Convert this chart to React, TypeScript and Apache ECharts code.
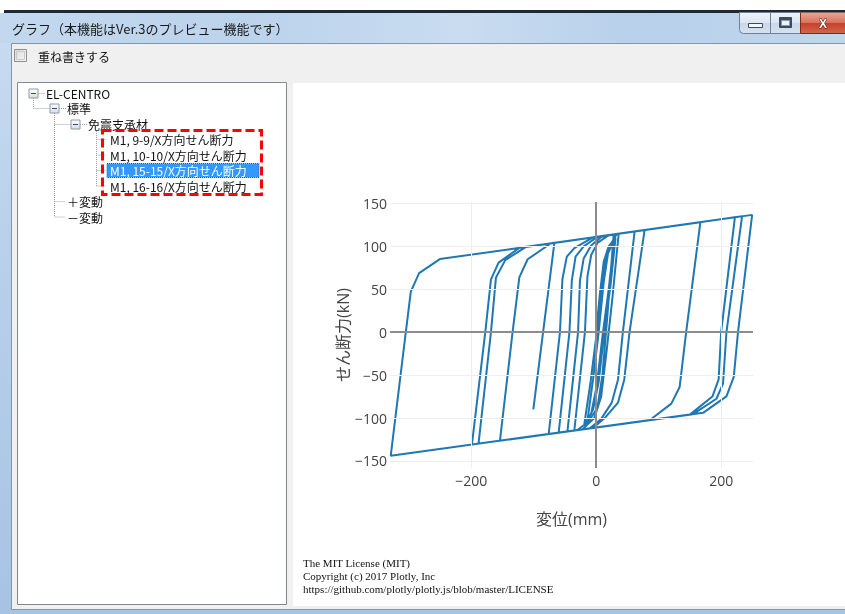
import React, { useEffect, useRef } from 'react';
import * as echarts from 'echarts';

// hysteresis loop: displacement (mm) vs shear force (kN), in time order
const displacement = [
  0, 6, 12, 20, 31, 23, 13, 4, -5, -14, -5, 4, 12, 19, 29, 20, 10, 1, -8, -19,
  -9, 1, 10, 18, 33, 166.8, 144, 133.6, 120.3, 85.5, -198.9, -177.5, -168.4, -156.2, -123,
  61.5, 42.7, 35, 25, 8, -10, -188.3, -168.4, -160.4, -145.5, -112.3, 249.6, 227, 220.2, 208.5,
  171, -328.8, -304.7, -296.7, -283.4, -250.2, 77.5, 53.4, 45, 35, 15, -5, -76, -58, -54,
  -47, -35, -5, 233.5, 208.5, 203, 192.5, 155, -46, -29, -26, -20, -8, 10, 222,
  200, 196, 186, 150, -35, -18, -14, -8, 2, 20, 36, 26, 17, 8, -3,
  -22, -60, -42.8, -39, -33, -20, 0, 28, 18, 10, 2, -12, -30, -154, -133.8,
  -123, -109.7, -72.2, -66.9, -100.6,
];
const shear = [
  0, 45, 82, 100, 110, 55, 0, -58, -90, -103, -55, 0, 58, 92, 108, 50, -5, -62, -95, -107,
  -58, 0, 62, 96, 114.4, 128.2, 0, -63.8, -83.2, -102.5, -130.9, 0, 61.5, 81, 98.3,
  117.3, 0, -55, -82, -101, -112, -129.8, 0, 63.8, 84, 99.4, 136.7, 0, -52, -74.7,
  -93.9, -143.9, 0, 47.3, 68.8, 85.2, 119, 0, -55, -82, -99, -111.5, -118.6, 0, 62,
  88, 98, 110.5, 135, 0, -60, -77.5, -95.5, -115.6, 0, 60, 86, 101, 112, 133.9,
  0, -55, -75, -96, -114.5, 0, 65, 90, 104, 113, 114.7, 40, -20, -75, -100,
  -113.2, -117, 0, 60, 88, 100, 110, 113.9, 20, -50, -88, -104, -114, -126.4, 0,
  63.8, 85, 103.6, 104.1, -90,
];

const xTickValues = [-200, 0, 200];
const yTickValues = [-150, -100, -50, 0, 50, 100, 150];
const xRange = [-330, 251];
const yRange = [-158.2, 151.7];

const windowTitle = 'グラフ（本機能はVer.3のプレビュー機能です）';
const checkboxLabel = '重ね書きする';
const treeRoot = 'EL-CENTRO';
const treeLevel1 = '標準';
const treeLevel2 = '免震支承材';
const treeItems = [
  'M1, 9-9/X方向せん断力',
  'M1, 10-10/X方向せん断力',
  'M1, 15-15/X方向せん断力',
  'M1, 16-16/X方向せん断力',
];
const selectedItem = 2;
const treeSiblings = ['＋変動', '－変動'];
const licenseLines = [
  'The MIT License (MIT)',
  'Copyright (c) 2017 Plotly, Inc',
  'https://github.com/plotly/plotly.js/blob/master/LICENSE',
];
const xTitle = '変位(mm)';
const yTitle = 'せん断力(kN)';

const UI_FONT = '"Noto Sans CJK JP", "Noto Sans", sans-serif';
const PLOT_FONT = '"Open Sans", "Noto Sans CJK JP", sans-serif';

const fmt = (v: number) => (v < 0 ? '\u2212' + Math.abs(v) : String(v));

function txt(text: string, x: number, y: number, size: number, fill = '#111', align = 'left', family = UI_FONT, extra: any = {}) {
  return {
    type: 'text',
    x,
    y,
    silent: true,
    style: {
      text,
      fill,
      font: `${size}px ${family}`,
      textAlign: align,
      align,
      textVerticalAlign: 'middle',
      verticalAlign: 'middle',
      ...extra,
    },
  };
}

function dotted(x1: number, y1: number, x2: number, y2: number) {
  return {
    type: 'line',
    silent: true,
    shape: { x1, y1, x2, y2 },
    style: { stroke: '#a0a0a0', lineWidth: 1, lineDash: [1, 1] },
  };
}

function expandBox(cx: number, cy: number) {
  return [
    {
      type: 'rect',
      silent: true,
      shape: { x: cx - 4.5, y: cy - 4.5, width: 9, height: 9 },
      style: {
        fill: { type: 'linear', x: 0, y: 0, x2: 0, y2: 1, colorStops: [{ offset: 0, color: '#ffffff' }, { offset: 1, color: '#dcdcdc' }] },
        stroke: '#8f9aa8',
        lineWidth: 1,
      },
    },
    {
      type: 'line',
      silent: true,
      shape: { x1: cx - 2.5, y1: cy, x2: cx + 2.5, y2: cy },
      style: { stroke: '#2c4a80', lineWidth: 1 },
    },
  ];
}

function buildGraphics() {
  const g: any[] = [];
  // outside / top
  g.push({ type: 'rect', silent: true, shape: { x: 0, y: 0, width: 845, height: 614 }, style: { fill: '#ffffff' } });
  g.push({ type: 'rect', silent: true, shape: { x: 4, y: 10, width: 841, height: 3 }, style: { fill: '#1e2936' } });
  // window frame
  g.push({
    type: 'rect', silent: true, shape: { x: 0, y: 13, width: 845, height: 601 },
    style: { fill: { type: 'linear', x: 0, y: 0, x2: 0, y2: 1, colorStops: [{ offset: 0, color: '#c8dcf1' }, { offset: 0.4, color: '#b9d0ea' }, { offset: 1, color: '#a7c3e4' }] } },
  });
  // title bar
  g.push({
    type: 'rect', silent: true, shape: { x: 0, y: 13, width: 845, height: 30 },
    style: { fill: { type: 'linear', x: 0, y: 0, x2: 1, y2: 0, colorStops: [{ offset: 0, color: '#c3d8ee' }, { offset: 0.3, color: '#bcd3ec' }, { offset: 0.55, color: '#c9dcf0' }, { offset: 0.75, color: '#b8d0ea' }, { offset: 1, color: '#c0d6ed' }] } },
  });
  g.push(txt(windowTitle, 12, 28, 13, '#1a1a1a'));
  // client area (runs off the right edge of the picture)
  g.push({ type: 'rect', silent: true, shape: { x: 12, y: 43, width: 833, height: 567 }, style: { fill: '#f0f0f0' } });
  g.push({ type: 'line', silent: true, shape: { x1: 11.5, y1: 43.5, x2: 845, y2: 43.5 }, style: { stroke: '#8596ab', lineWidth: 1 } });
  g.push({ type: 'line', silent: true, shape: { x1: 11.5, y1: 43.5, x2: 11.5, y2: 609.5 }, style: { stroke: '#8596ab', lineWidth: 1 } });
  g.push({ type: 'line', silent: true, shape: { x1: 11.5, y1: 609.5, x2: 845, y2: 609.5 }, style: { stroke: '#8596ab', lineWidth: 1 } });
  // checkbox
  g.push({
    type: 'rect', silent: true, shape: { x: 14.5, y: 49.5, width: 12, height: 12 },
    style: { fill: { type: 'linear', x: 0, y: 0, x2: 1, y2: 1, colorStops: [{ offset: 0, color: '#d8d8d8' }, { offset: 1, color: '#fafafa' }] }, stroke: '#8e8f8f', lineWidth: 1 },
  });
  g.push({ type: 'rect', silent: true, shape: { x: 16.5, y: 51.5, width: 8, height: 8 }, style: { fill: 'none', stroke: '#c8c8c8', lineWidth: 1 } });
  g.push(txt(checkboxLabel, 38, 56, 12, '#111'));
  // tree view box
  g.push({ type: 'rect', silent: true, shape: { x: 17.5, y: 82.5, width: 269, height: 522 }, style: { fill: '#ffffff', stroke: '#828790', lineWidth: 1 } });
  // plot panel
  g.push({ type: 'rect', silent: true, shape: { x: 293, y: 83, width: 552, height: 523 }, style: { fill: '#ffffff' } });

  // tree connectors
  const itemY = [139.5, 155, 170.5, 186];
  g.push(dotted(38.5, 93.5, 45, 93.5));
  g.push(dotted(33.5, 98, 33.5, 108.5));
  g.push(dotted(33.5, 108.5, 50, 108.5));
  g.push(dotted(54.5, 113, 54.5, 217));
  g.push(dotted(59, 108.5, 66, 108.5));
  g.push(dotted(54.5, 124.5, 71, 124.5));
  g.push(dotted(80, 124.5, 87, 124.5));
  g.push(dotted(54.5, 201.5, 65, 201.5));
  g.push(dotted(54.5, 217, 65, 217));
  g.push(dotted(96.5, 131, 96.5, 186));
  itemY.forEach((y) => g.push(dotted(96.5, y, 106, y)));
  g.push(...expandBox(33.5, 93.5));
  g.push(...expandBox(54.5, 108.5));
  g.push(...expandBox(75.5, 124.5));
  g.push(txt(treeRoot, 46, 93, 12, '#111'));
  g.push(txt(treeLevel1, 67, 108.5, 12, '#111'));
  g.push(txt(treeLevel2, 88, 124, 12, '#111'));
  // selection highlight
  g.push({ type: 'rect', silent: true, shape: { x: 107, y: 163.5, width: 152, height: 14 }, style: { fill: '#3399ff', stroke: '#1a5fb4', lineWidth: 1, lineDash: [1, 1] } });
  treeItems.forEach((t, i) => g.push(txt(t, 110, itemY[i], 12, i === selectedItem ? '#ffffff' : '#111')));
  g.push(txt(treeSiblings[0], 67, 201.5, 12, '#111'));
  g.push(txt(treeSiblings[1], 67, 217, 12, '#111'));
  // red dashed highlight box
  g.push({ type: 'rect', silent: true, shape: { x: 102.5, y: 130.5, width: 159, height: 64 }, style: { fill: 'none', stroke: '#ff0000', lineWidth: 3, lineDash: [9, 4] } });

  // title buttons
  const btnFill = { type: 'linear', x: 0, y: 0, x2: 0, y2: 1, colorStops: [{ offset: 0, color: '#eef3f9' }, { offset: 0.5, color: '#dbe5f1' }, { offset: 0.51, color: '#c9d7e8' }, { offset: 1, color: '#d6e2ef' }] };
  g.push({ type: 'rect', silent: true, shape: { x: 739.5, y: 12.5, width: 31, height: 21, r: [0, 0, 0, 4] }, style: { fill: btnFill, stroke: '#6f8196', lineWidth: 1 } });
  g.push({ type: 'rect', silent: true, shape: { x: 770.5, y: 12.5, width: 30, height: 21 }, style: { fill: btnFill, stroke: '#6f8196', lineWidth: 1 } });
  g.push({ type: 'rect', silent: true, shape: { x: 748.5, y: 23.5, width: 14, height: 4 }, style: { fill: '#f4f7fb', stroke: '#3d4b5e', lineWidth: 1 } });
  g.push({ type: 'rect', silent: true, shape: { x: 779.5, y: 17.5, width: 12, height: 10 }, style: { fill: '#3d4b5e', stroke: '#3d4b5e', lineWidth: 1 } });
  g.push({ type: 'rect', silent: true, shape: { x: 781.5, y: 20.5, width: 8, height: 5 }, style: { fill: '#eef3f9', stroke: '#8a9bb0', lineWidth: 1 } });
  g.push({
    type: 'rect', silent: true, shape: { x: 800.5, y: 12.5, width: 44.5, height: 21 },
    style: { fill: { type: 'linear', x: 0, y: 0, x2: 0, y2: 1, colorStops: [{ offset: 0, color: '#e9a795' }, { offset: 0.5, color: '#d8705a' }, { offset: 0.51, color: '#c7402a' }, { offset: 1, color: '#d2674d' }] } },
  });
  g.push({ type: 'line', silent: true, shape: { x1: 800.5, y1: 12.5, x2: 800.5, y2: 33.5 }, style: { stroke: '#7a2a1e', lineWidth: 1 } });
  g.push({ type: 'line', silent: true, shape: { x1: 800.5, y1: 33.5, x2: 845, y2: 33.5 }, style: { stroke: '#7a2a1e', lineWidth: 1 } });
  g.push(txt('X', 823, 23.5, 15, '#ffffff', 'center', '"Liberation Sans", Arial, sans-serif', { fontWeight: 'bold', font: 'bold 15px "Liberation Sans", Arial, sans-serif', stroke: '#5a2218', lineWidth: 1.2 }));

  // plotly license
  licenseLines.forEach((t, i) => g.push(txt(t, 303, 563 + i * 13, 11, '#111', 'left', '"Liberation Serif", "Times New Roman", serif')));
  return g;
}

export default function App() {
  const ref = useRef<HTMLDivElement>(null);
  useEffect(() => {
    document.documentElement.style.overflow = 'hidden';
    document.body.style.margin = '0';
    document.body.style.overflow = 'hidden';
    const chart = echarts.init(ref.current!, undefined, { renderer: 'svg', width: 845, height: 614 });
    const points = displacement.map((d, i) => [d, shear[i]]);
    const gridLines = [
      ...xTickValues.filter((v) => v !== 0).map((v) => ({ xAxis: v })),
      ...yTickValues.filter((v) => v !== 0).map((v) => ({ yAxis: v })),
    ];
    chart.setOption({
      animation: false,
      backgroundColor: 'transparent',
      graphic: { elements: buildGraphics() },
      grid: { left: 390, top: 202, width: 363, height: 266, containLabel: false },
      xAxis: {
        type: 'value',
        min: xRange[0],
        max: xRange[1],
        splitNumber: 5,
        axisLine: { show: false },
        axisTick: { show: false },
        splitLine: { show: false },
        axisLabel: {
          margin: 5,
          color: '#444',
          fontSize: 14,
          fontFamily: PLOT_FONT,
          formatter: (v: number) => (xTickValues.includes(v) ? fmt(v) : ''),
        },
        name: xTitle,
        nameLocation: 'middle',
        nameGap: 43,
        nameTextStyle: { color: '#444', fontSize: 16, fontFamily: PLOT_FONT },
      },
      yAxis: {
        type: 'value',
        min: yRange[0],
        max: yRange[1],
        splitNumber: 6,
        axisLine: { show: false },
        axisTick: { show: false },
        splitLine: { show: false },
        axisLabel: {
          margin: 3,
          color: '#444',
          fontSize: 14,
          fontFamily: PLOT_FONT,
          formatter: (v: number) => (yTickValues.includes(v) ? fmt(v) : ''),
        },
        name: yTitle,
        nameLocation: 'middle',
        nameRotate: 90,
        nameGap: 37,
        nameTextStyle: { color: '#444', fontSize: 16, fontFamily: PLOT_FONT },
      },
      series: [
        {
          type: 'line',
          data: [],
          z: 1,
          silent: true,
          markLine: {
            silent: true,
            symbol: ['none', 'none'],
            label: { show: false },
            lineStyle: { color: '#eeeeee', width: 1, type: 'solid' },
            data: gridLines,
          },
        },
        {
          type: 'line',
          data: [],
          z: 1,
          silent: true,
          markLine: {
            silent: true,
            symbol: ['none', 'none'],
            label: { show: false },
            lineStyle: { color: '#8c8c8c', width: 2, type: 'solid' },
            data: [{ xAxis: 0 }, { yAxis: 0 }],
          },
        },
        {
          type: 'line',
          data: points,
          z: 3,
          showSymbol: false,
          symbol: 'none',
          smooth: false,
          lineStyle: { color: '#1f77b4', width: 2 },
          itemStyle: { color: '#1f77b4' },
          silent: true,
        },
      ],
    });
    return () => chart.dispose();
  }, []);
  return <div ref={ref} style={{ width: 845, height: 614, position: 'fixed', left: 0, top: 0 }} />;
}
